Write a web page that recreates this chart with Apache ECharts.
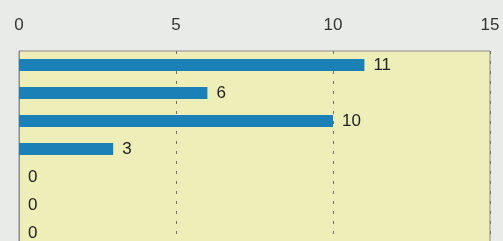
<!DOCTYPE html>
<html>
<head>
<meta charset="utf-8">
<script src="https://cdn.jsdelivr.net/npm/echarts@6/dist/echarts.min.js"></script>
<style>
	html, body { margin: 0; padding: 0; background: #e9ebe9; }
	#chart { width: 503px; height: 241px; }
</style>
</head>
<body>
<div id="chart"></div>
<script>
	// 数据
	var categories = ['A', 'B', 'C', 'D', 'E', 'F', 'G'];
	var values = [11, 6, 10, 3, 0, 0, 0];
	var xTicks = [0, 5, 10, 15];

	var option = {
		backgroundColor: '#e9ebe9',
		animation: false,
		grid: {
			left: 19,
			width: 471,
			top: 51,
			height: 196,
			outerBoundsMode: 'none',
			containLabel: false,
			show: true,
			backgroundColor: '#eeeeb8',
			borderColor: '#8a8a8a',
			borderWidth: 1
		},
		xAxis: {
			type: 'value',
			position: 'top',
			min: xTicks[0],
			max: xTicks[xTicks.length - 1],
			interval: 5,
			axisLine: { show: false },
			axisTick: { show: false },
			axisLabel: {
				margin: 17,
				color: '#333',
				fontSize: 17,
				fontFamily: 'Liberation Sans'
			},
			splitLine: {
				show: true,
				lineStyle: { color: '#6f6f6f', type: [3, 7], width: 1 }
			}
		},
		yAxis: {
			type: 'category',
			inverse: true,
			data: categories,
			axisLine: { show: true, lineStyle: { color: '#8a8a8a' } },
			axisTick: { show: false },
			axisLabel: { show: false },
			splitLine: { show: false }
		},
		series: [{
			type: 'bar',
			data: values,
			barWidth: 12,
			itemStyle: { color: '#1a80b6' },
			label: {
				show: true,
				position: 'right',
				distance: 9,
				color: '#222',
				fontSize: 17,
				fontFamily: 'Liberation Sans'
			}
		}]
	};
	echarts.init(document.getElementById('chart')).setOption(option);
</script>
</body>
</html>
